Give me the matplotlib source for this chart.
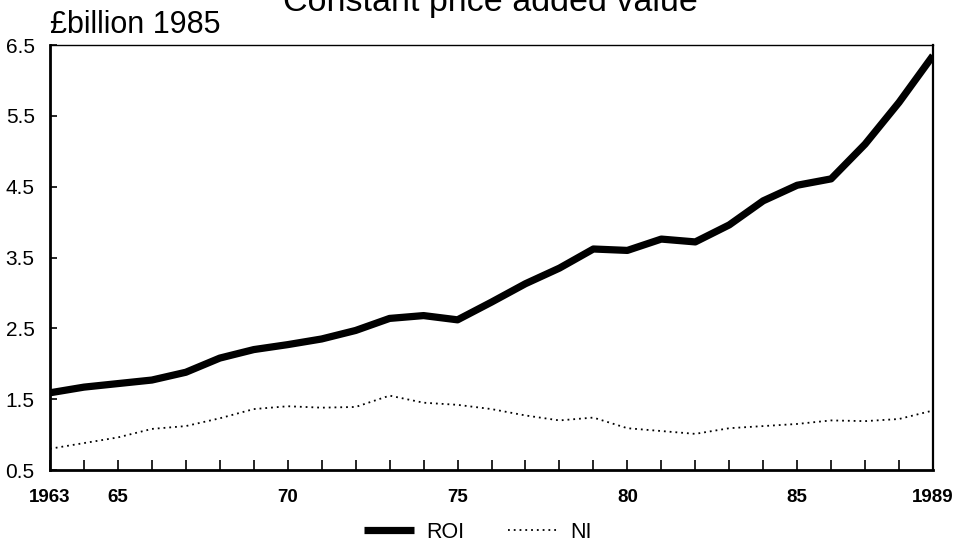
import matplotlib
matplotlib.use("Agg")
import matplotlib.pyplot as plt
from matplotlib.ticker import FixedLocator

plt.rcParams['font.family'] = ['Liberation Sans', 'DejaVu Sans']

years = list(range(1963, 1990))
roi = [1.59, 1.67, 1.72, 1.77, 1.88, 2.08, 2.20, 2.27, 2.35, 2.47,
       2.64, 2.68, 2.62, 2.87, 3.13, 3.35, 3.62, 3.60, 3.76, 3.72,
       3.96, 4.30, 4.52, 4.61, 5.10, 5.69, 6.35]
ni = [0.80, 0.88, 0.96, 1.08, 1.12, 1.23, 1.36, 1.40, 1.38, 1.39,
      1.55, 1.45, 1.42, 1.36, 1.27, 1.20, 1.24, 1.09, 1.05, 1.01,
      1.09, 1.12, 1.15, 1.20, 1.19, 1.22, 1.34]
y_ticks = [0.5, 1.5, 2.5, 3.5, 4.5, 5.5, 6.5]
y_tick_labels = ['0.5', '1.5', '2.5', '3.5', '4.5', '5.5', '6.5']
x_label_years = [1963, 1965, 1970, 1975, 1980, 1985, 1989]
x_label_text = ['1963', '65', '70', '75', '80', '85', '1989']
series_names = ['ROI', 'NI']
title = 'Constant price added value'
unit_label = '£billion 1985'

fig = plt.figure(figsize=(9.64, 5.49), dpi=100)
ax = fig.add_axes([50/964, 1 - 470/549, (933-50)/964, (470-45)/549])

ax.plot(years, roi, color='black', lw=5.2, solid_joinstyle='round',
        solid_capstyle='butt', label=series_names[0])
ax.plot(years, ni, color='black', lw=1.3, linestyle=(0, (1, 2.2)),
        label=series_names[1])

ax.set_xlim(years[0], years[-1])
ax.set_ylim(y_ticks[0], y_ticks[-1])

ax.set_yticks(y_ticks)
ax.set_yticklabels(y_tick_labels, fontsize=15)
ax.set_xticks(x_label_years)
ax.set_xticklabels(x_label_text, fontsize=13.5, fontweight='bold')
ax.xaxis.set_minor_locator(FixedLocator(years))

ax.tick_params(axis='y', direction='in', length=5, width=1.2, pad=11)
ax.tick_params(axis='x', which='both', direction='in', length=7, width=1.2, pad=14)

for side, lw in [('left', 2.0), ('bottom', 2.0), ('right', 1.6), ('top', 1.0)]:
    ax.spines[side].set_linewidth(lw)
    ax.spines[side].set_color('black')

fig.text(50/964, 1 - 33/549, unit_label, fontsize=22, ha='left', va='baseline')
fig.text(490/964, 1 - 11/549, title, fontsize=24.5, ha='center', va='baseline')

leg = ax.legend(loc='center', bbox_to_anchor=(478/964, 1 - 532/549),
                bbox_transform=fig.transFigure, ncol=2, frameon=False,
                fontsize=15.5, handlelength=2.3, handletextpad=0.6,
                columnspacing=2.0, borderpad=0.1)

fig.savefig('out.png', dpi=100)
